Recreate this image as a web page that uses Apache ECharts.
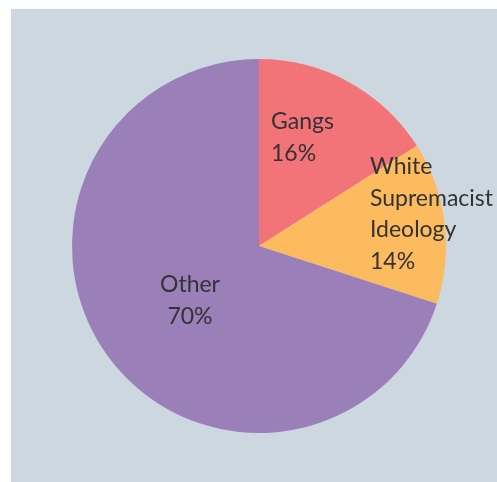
<!DOCTYPE html>
<html>
<head>
<meta charset="utf-8">
<script src="https://cdn.jsdelivr.net/npm/echarts@6/dist/echarts.min.js"></script>
<style>
  html, body { margin: 0; padding: 0; background: #ffffff; }
  #panel { position: absolute; left: 11px; top: 9px; width: 486px; height: 473px; background: #cdd7e0; }
  #chart { position: absolute; left: 0; top: 0; width: 497px; height: 482px; }
</style>
</head>
<body>
<div id="panel"></div>
<div id="chart"></div>
<script>
// Share of incidents by motive
const categories = ['Gangs', 'White\nSupremacist\nIdeology', 'Other'];
const shares = [16, 14, 70];
const sliceColors = ['#f27479', '#fcbb5e', '#9b7fb9'];

// label anchor points (pixels) for each slice's text block
const labelSpots = [
  { x: 271, y: 106, align: 'left' },
  { x: 370, y: 151, align: 'left' },
  { x: 190, y: 269, align: 'center' }
];

const chart = echarts.init(document.getElementById('chart'), null, { renderer: 'canvas' });

chart.setOption({
  backgroundColor: 'transparent',
  animation: false,
  series: [{
    type: 'pie',
    center: [259, 246],
    radius: 187,
    startAngle: 90,
    clockwise: true,
    avoidLabelOverlap: false,
    data: categories.map((name, i) => ({
      name: name,
      value: shares[i],
      itemStyle: { color: sliceColors[i] }
    })),
    itemStyle: { borderWidth: 0 },
    label: {
      show: true,
      position: 'inside',
      formatter: p => p.name + '\n' + p.value + '%',
      color: '#333333',
      fontFamily: 'Lato',
      fontSize: 23,
      lineHeight: 31.5
    },
    labelLine: { show: false },
    labelLayout: p => {
      const s = labelSpots[p.dataIndex];
      return { x: s.x, y: s.y, align: s.align, verticalAlign: 'top' };
    },
    emphasis: { disabled: true }
  }]
});
</script>
</body>
</html>
